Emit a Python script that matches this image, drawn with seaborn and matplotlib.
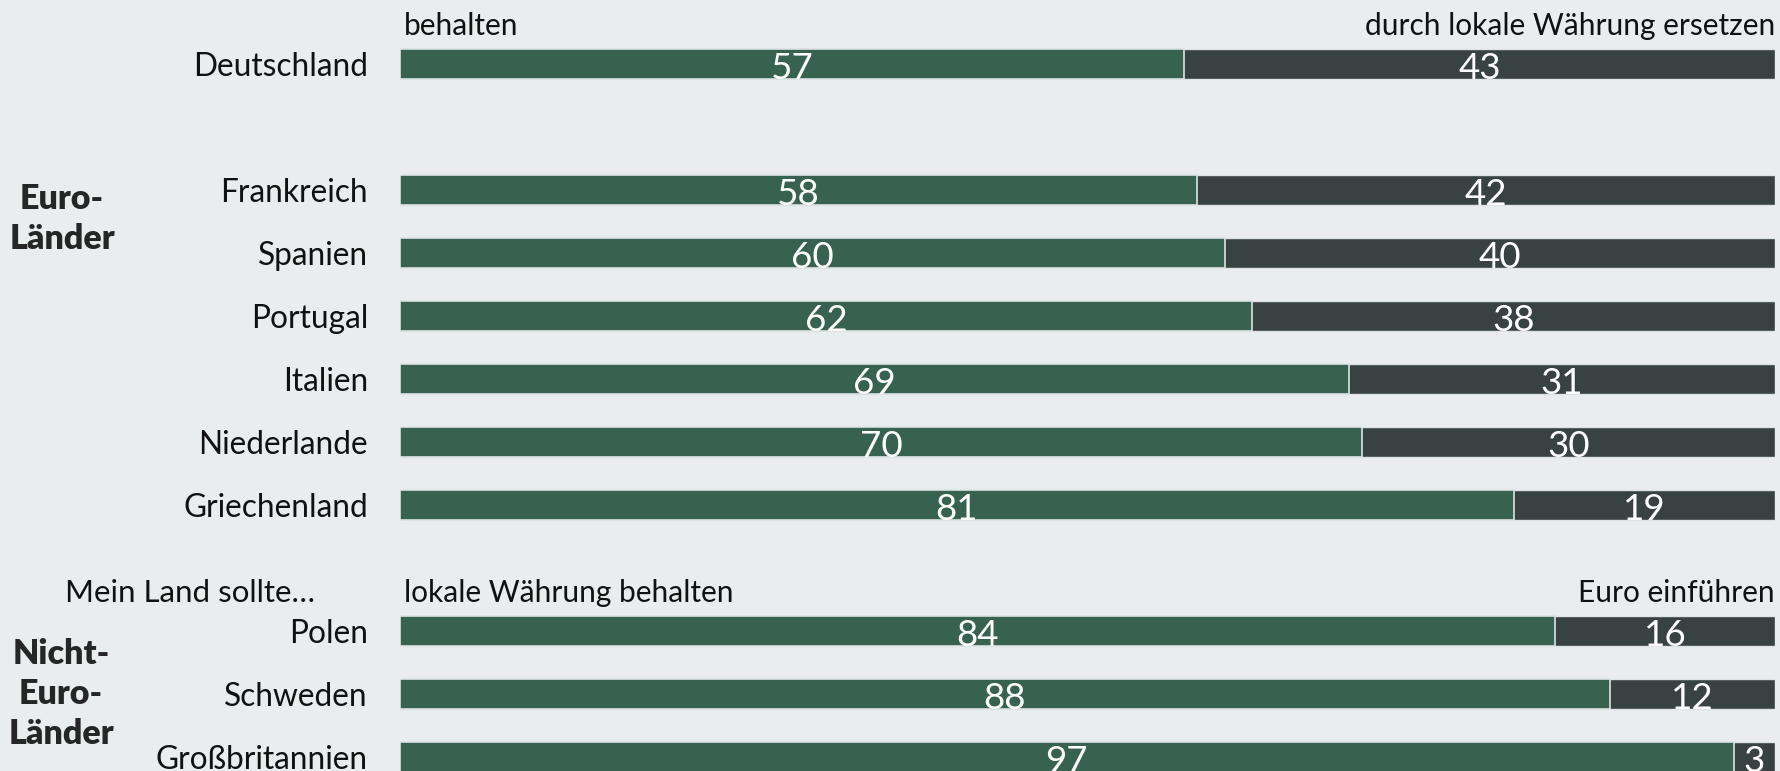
import pandas as pd
import matplotlib.pyplot as plt
import seaborn as sns

# Data (percent)
euro_de = ['Deutschland']
euro_countries = ['Frankreich', 'Spanien', 'Portugal', 'Italien', 'Niederlande', 'Griechenland']
non_euro = ['Polen', 'Schweden', 'Großbritannien']

behalten = [57, 58, 60, 62, 69, 70, 81, 84, 88, 97]
ersetzen = [43, 42, 40, 38, 31, 30, 19, 16, 12, 3]

header_top = ['behalten', 'durch lokale Währung ersetzen']
header_non_euro = ['Mein Land sollte…', 'lokale Währung behalten', 'Euro einführen']
group_labels = ['Euro-\nLänder', 'Nicht-\nEuro-\nLänder']

# Colors
bg = '#e9edee'
green = '#36624f'
dark = '#374241'
edge = '#dde3e3'

# Row positions: one empty row between groups
groups = [euro_de, euro_countries, non_euro]
countries, pos = [], []
r = 0
for g in groups:
    for c in g:
        countries.append(c)
        pos.append(r)
        r += 1
    r += 1

df = pd.DataFrame({'country': countries, 'pos': pos,
                   'behalten': behalten, 'ersetzen': ersetzen})
df['total'] = df['behalten'] + df['ersetzen']

sns.set_style('white')
plt.rcParams['font.family'] = ['Lato', 'DejaVu Sans']

W, H = 1781, 771
fig = plt.figure(figsize=(W / 100, H / 100), dpi=100)
fig.patch.set_facecolor(bg)
ax = fig.add_axes([400 / W, 0, 1375 / W, 1])
ax.set_facecolor(bg)

bar_h = 0.476
# stacked: dark full segment underneath, green on top
sns.barplot(data=df, x='total', y='pos', orient='y', native_scale=True,
            width=bar_h, color=dark, saturation=1, errorbar=None,
            edgecolor=edge, linewidth=1, ax=ax)
sns.barplot(data=df, x='behalten', y='pos', orient='y', native_scale=True,
            width=bar_h, color=green, saturation=1, errorbar=None,
            edgecolor=edge, linewidth=1.2, ax=ax)

ax.set_xlim(0, 100)
ax.set_ylim((H - 64) / 63, -64 / 63)
for s in ax.spines.values():
    s.set_visible(False)
ax.set_xticks([])
ax.set_xlabel('')
ax.set_ylabel('')
ax.set_yticks(df['pos'])
ax.set_yticklabels(df['country'], fontsize=22.8, color='#111111')
ax.tick_params(axis='y', length=0, pad=23)

# value labels
for _, row in df.iterrows():
    yb = row['pos'] + bar_h / 2 + 0.005
    ax.text(row['behalten'] / 2, yb, f"{row['behalten']}", ha='center', va='baseline',
            color='white', fontsize=26.5, clip_on=False)
    ax.text(row['behalten'] + row['ersetzen'] / 2, yb, f"{row['ersetzen']}", ha='center',
            va='baseline', color='white', fontsize=26.5, clip_on=False)

# headers
def header_y(p):
    return p - bar_h / 2 - 0.22

y0 = header_y(df['pos'].iloc[0])
ax.text(0.3, y0, header_top[0], ha='left', va='baseline', fontsize=21.5, color='#111111')
ax.text(100, y0, header_top[1], ha='right', va='baseline', fontsize=21.5, color='#111111')

p_pl = df.loc[df['country'] == non_euro[0], 'pos'].iloc[0]
y1 = header_y(p_pl)
ax.text(-6.2, y1, header_non_euro[0], ha='right', va='baseline', fontsize=22.5,
        color='#111111', clip_on=False)
ax.text(0.3, y1, header_non_euro[1], ha='left', va='baseline', fontsize=21.5, color='#111111')
ax.text(100, y1, header_non_euro[2], ha='right', va='baseline', fontsize=21.5, color='#111111')

# group labels
fig.text(62 / W, 1 - 219 / H, group_labels[0], ha='center', va='center', fontsize=24.5,
         fontweight='heavy', multialignment='center', linespacing=1.3)
fig.text(61 / W, 1 - 694 / H, group_labels[1], ha='center', va='center', fontsize=24.5,
         fontweight='heavy', multialignment='center', linespacing=1.3)

fig.savefig('out.png', dpi=100, facecolor=bg)
